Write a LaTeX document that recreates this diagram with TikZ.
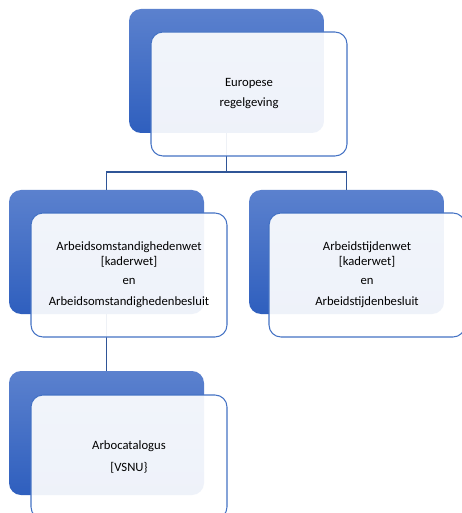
\documentclass[tikz,border=0pt]{standalone}
\usepackage{fontspec}
\setmainfont{Carlito}
\begin{document}
\begin{tikzpicture}[x=0.75pt,y=-0.75pt,
  backbox/.style={rounded corners=9pt, top color=blueTop, bottom color=blueBot, draw=none,
    minimum width=146.25pt, minimum height=93pt, inner sep=0pt},
  frontbox/.style={rounded corners=9pt, fill=white, fill opacity=0.92, text opacity=1,
    draw=frontLine, draw opacity=1, line width=0.8pt, minimum width=147pt, minimum height=93pt,
    inner sep=0pt, align=center, font=\fontsize{9.5}{11.25}\selectfont, text=black},
  conn/.style={draw=connLine, line width=0.8pt}]
\definecolor{blueTop}{HTML}{5B81CE}
\definecolor{blueBot}{HTML}{2F5FBE}
\definecolor{frontLine}{HTML}{4472C4}
\definecolor{connLine}{HTML}{2F5597}
\useasboundingbox (0,0) rectangle (461,513);
\fill[white] (0,0) rectangle (461,513);
% back boxes
\node[backbox] (topback) at (226.5,71) {};
\node[backbox] (lback) at (106.5,252) {};
\node[backbox] (rback) at (346.5,252) {};
\node[backbox] (bback) at (106.5,433) {};
% connectors
\coordinate (bus) at (0,172);
\draw[conn] (topback.south) -- (topback.south |- bus);
\draw[conn] (lback.north) |- (topback.south |- bus) -| (rback.north);
\draw[conn] (lback.south) -- (bback.north);
% front boxes
\node[frontbox, font=\fontsize{9.5}{15}\selectfont] (topfront) at (249,94) {Europese\\regelgeving};
\node[frontbox] (lfront) at (129,275) {Arbeidsomstandighedenwet\\{}[kaderwet]\\[3pt]en\\[4.5pt]Arbeidsomstandighedenbesluit};
\node[frontbox] (rfront) at (367,275) {Arbeidstijdenwet\\{}[kaderwet]\\[3pt]en\\[4.5pt]Arbeidstijdenbesluit};
\node[frontbox, font=\fontsize{9.5}{17}\selectfont] (bfront) at (129,457) {Arbocatalogus\\{}[VSNU\}};
\end{tikzpicture}
\end{document}
